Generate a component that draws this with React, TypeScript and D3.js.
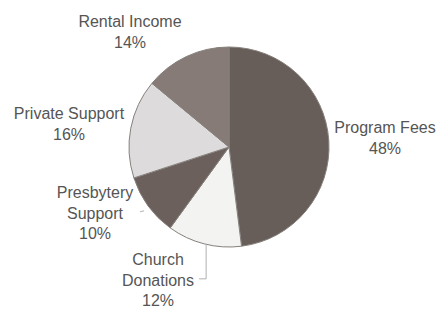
import React from "react";
import * as d3 from "d3";

const categories = ["Program Fees", "Church Donations", "Presbytery Support", "Private Support", "Rental Income"];
const values = [48, 12, 10, 16, 14];
const colors = ["#675d59", "#f3f3f1", "#6c605c", "#dddbdc", "#867b77"];

const App: React.FC = () => {
  const width = 443;
  const height = 309;
  const cx = 229;
  const cy = 147;
  const r = 100;

  const pie = d3.pie<number>().sort(null).value(d => d);
  const arcs = pie(values);
  const arc = d3.arc<d3.PieArcDatum<number>>().innerRadius(0).outerRadius(r);
  const outer = d3.arc<d3.PieArcDatum<number>>().innerRadius(r).outerRadius(r);

  // label positions (lines of text), placed by hand around the pie
  const labels: { lines: string[]; x: number; y: number }[] = [
    { lines: ["Program Fees", "48%"], x: 385, y: 133 },
    { lines: ["Church", "Donations", "12%"], x: 158, y: 265 },
    { lines: ["Presbytery", "Support", "10%"], x: 95, y: 198 },
    { lines: ["Private Support", "16%"], x: 69, y: 119 },
    { lines: ["Rental Income", "14%"], x: 130, y: 27 },
  ];

  const church = outer.centroid(arcs[1]);
  const presb = outer.centroid(arcs[2]);
  const chx = cx + church[0] + 2;
  const chy = cy + church[1];

  return (
    <svg width={width} height={height} style={{ position: "absolute", left: 0, top: 0, background: "#fff" }}>
      <g transform={`translate(${cx},${cy})`}>
        {arcs.map((a, i) => (
          <path key={i} d={arc(a) ?? ""} fill={colors[i]} stroke="#85807c" strokeWidth={1} />
        ))}
      </g>
      {/* leader lines */}
      <polyline
        points={`${chx},${chy} ${chx},${chy + 35} ${chx - 7},${chy + 35}`}
        fill="none"
        stroke="#b0b0b0"
        strokeWidth={1}
      />
      <line x1={cx + presb[0] - 4} y1={cy + presb[1] + 5} x2={cx + presb[0] - 8} y2={cy + presb[1] + 6} stroke="#b0b0b0" />
      {labels.map((l, i) => (
        <text
          key={i}
          x={l.x}
          y={l.y}
          textAnchor="middle"
          fill="#555"
          style={{ fontFamily: "Liberation Sans, Arial, sans-serif", fontSize: "16px" }}
        >
          {l.lines.map((t, j) => (
            <tspan key={j} x={l.x} dy={j === 0 ? 0 : 20.5}>
              {t}
            </tspan>
          ))}
        </text>
      ))}
    </svg>
  );
};

export default App;
